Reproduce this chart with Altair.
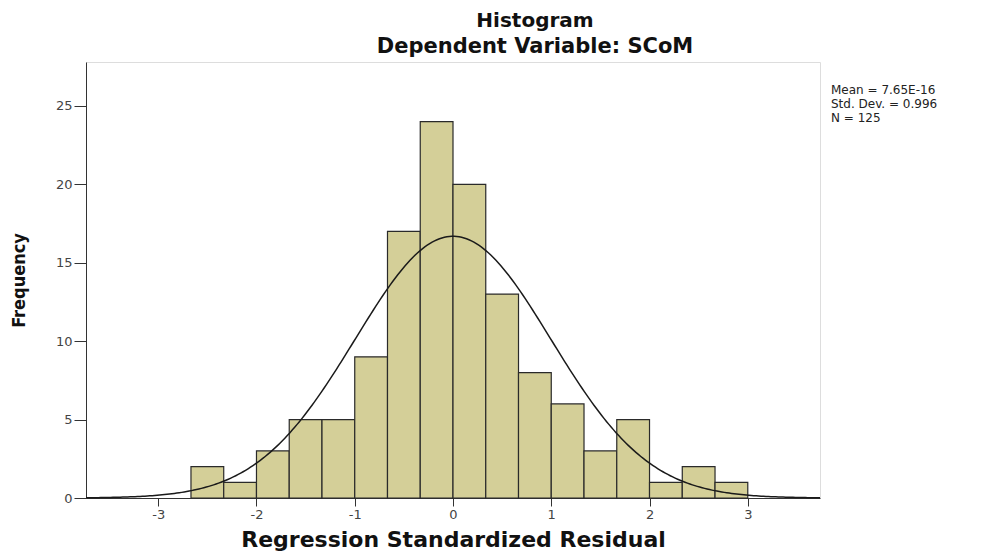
import altair as alt
import pandas as pd
import numpy as np

# Histogram bins (width 1/3)
bin_start = [-8/3 + i/3 for i in range(17)]
counts = [2, 1, 3, 5, 5, 9, 17, 24, 20, 13, 8, 6, 3, 5, 1, 2, 1]

# Summary statistics shown on the chart
mean_val = 7.65e-16
sd_val = 0.996
n_val = 125
bin_width = 1/3

title_text = "Histogram"
subtitle_text = "Dependent Variable: SCoM"
stats_lines = ["Mean = 7.65E-16", "Std. Dev. = 0.996", "N = 125"]
x_ticks = [-3, -2, -1, 0, 1, 2, 3]
y_ticks = [0, 5, 10, 15, 20, 25]

XMIN, XMAX = -3.735, 3.735
YMAX = 27.8

bars = pd.DataFrame({
    "x0": bin_start,
    "x1": [b + bin_width for b in bin_start],
    "count": counts,
})

# Fitted normal curve (from the stated mean, sd and N)
xs = np.linspace(XMIN, XMAX, 300)
ys = n_val * bin_width * np.exp(-0.5 * ((xs - mean_val) / sd_val) ** 2) / (sd_val * np.sqrt(2 * np.pi))
curve = pd.DataFrame({"x": xs, "y": ys})

xscale = alt.Scale(domain=[XMIN, XMAX], nice=False, zero=False)
yscale = alt.Scale(domain=[0, YMAX], nice=False)

font = "DejaVu Sans"

xaxis = alt.Axis(
    values=x_ticks, title="Regression Standardized Residual", grid=False,
    labelExpr="toString(datum.value)",
    labelFont=font, labelFontSize=13, labelColor="#444", tickColor="#333",
    tickSize=8, domainColor="#333", labelPadding=2,
    titleFont=font, titleFontSize=22, titleFontWeight="bold", titleColor="#111",
    titlePadding=8,
)
yaxis = alt.Axis(
    values=y_ticks, title="Frequency", grid=False,
    labelFont=font, labelFontSize=13, labelColor="#444", tickColor="#333",
    tickSize=12, domainColor="#333", labelPadding=2,
    titleFont="Liberation Sans Narrow, DejaVu Sans Condensed", titleFontSize=18,
    titleFontWeight="bold", titleColor="#111", titlePadding=27,
)

bar_layer = alt.Chart(bars).mark_rect(
    fill="#d4cf98", stroke="#2a2a2a", strokeWidth=1.2
).encode(
    x=alt.X("x0:Q", scale=xscale, axis=xaxis),
    x2="x1:Q",
    y=alt.Y("count:Q", scale=yscale, axis=yaxis),
    y2=alt.datum(0),
)

curve_layer = alt.Chart(curve).mark_line(color="#1a1a1a", strokeWidth=1.5).encode(
    x=alt.X("x:Q", scale=xscale),
    y=alt.Y("y:Q", scale=yscale),
)

one = pd.DataFrame({"a": [0]})

stats_layer = alt.Chart(one).mark_text(
    align="left", baseline="top", font=font, fontSize=12, lineHeight=14, color="#222"
).encode(
    x=alt.value(745), y=alt.value(23),
    text=alt.value(stats_lines),
)

title_layer = alt.Chart(one).mark_text(
    align="center", baseline="alphabetic", font=font, fontSize=20, fontWeight="bold", color="#111"
).encode(
    x=alt.value(449), y=alt.value(-35), text=alt.value(title_text),
)

subtitle_layer = alt.Chart(one).mark_text(
    align="center", baseline="alphabetic", font=font, fontSize=21, fontWeight="bold", color="#111"
).encode(
    x=alt.value(449), y=alt.value(-9), text=alt.value(subtitle_text),
)

chart = alt.layer(bar_layer, curve_layer, stats_layer, title_layer, subtitle_layer).properties(
    width=734, height=436,
    autosize=alt.AutoSizeParams(type="none"),
    padding={"left": 78, "top": 54, "right": 150, "bottom": 58},
).configure_view(
    fill="#f0f0f0", stroke="#555", strokeWidth=1.5
).configure(background="white")

chart.save("out.html", embed_options={"renderer": "svg", "actions": False})
